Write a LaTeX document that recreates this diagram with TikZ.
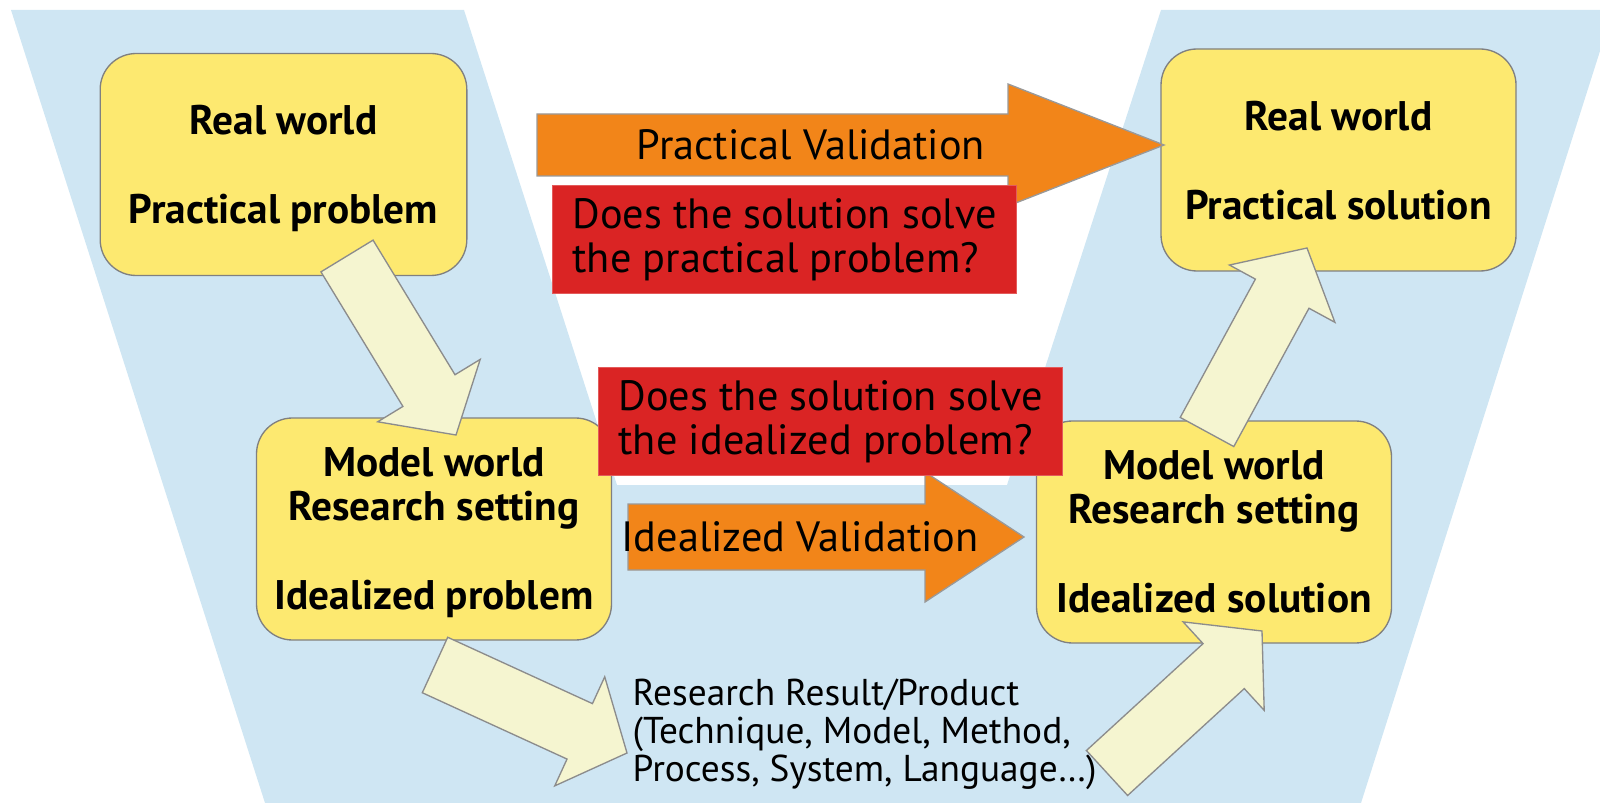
\documentclass[tikz,border=0pt]{standalone}
\usepackage{fontspec}
\setmainfont{PT Sans}
\usepackage{xcolor}
\usetikzlibrary{calc}
\definecolor{vblue}{RGB}{207,230,243}
\definecolor{boxyellow}{RGB}{253,233,112}
\definecolor{paleyellow}{RGB}{245,245,208}
\definecolor{valorange}{RGB}{242,133,25}
\definecolor{askred}{RGB}{218,36,36}
% fat arrow from #1 to #2 (shaft, head)
\newcommand{\fatarrow}[2]{%
  \coordinate (#1h) at ($(#2)!15.6pt!(#1)$);
  \draw[fat] ($(#1)!9.15pt!90:(#2)$) -- ($(#1h)!9.15pt!-90:(#1)$)
    -- ($(#1h)!18pt!-90:(#1)$) -- (#2) -- ($(#1h)!18pt!90:(#1)$)
    -- ($(#1h)!9.15pt!90:(#1)$) -- ($(#1)!9.15pt!-90:(#2)$) -- cycle;
}

\begin{document}
\begin{tikzpicture}[x=0.3pt, y=-0.3pt, line width=0.4pt,
    font=\fontsize{12.7}{13.2}\selectfont,
    world/.style={draw=black!50, fill=boxyellow, rounded corners=10.8pt,
      minimum width=106.5pt, minimum height=66.6pt, align=center,
      text depth=0pt, font=\fontsize{12.4}{13.2}\selectfont\bfseries},
    question/.style={draw=askred!75!white, fill=askred, align=left,
      minimum width=139.2pt, minimum height=32.4pt},
    fat/.style={draw=black!45, fill=paleyellow},
    valid/.style={draw=black!40, fill=valorange}]
  \useasboundingbox (0,0) rectangle (1600,803);
  % background V
  \fill[vblue] (11,10) -- (464,10) -- (617,485) -- (1007,485) -- (1161,10)
    -- (1600,10) -- (1600,51) -- (1361,803) -- (265,803) -- cycle;
  % the four worlds
  \node[world, minimum width=110pt] (realp) at (283.5,164.5)
    {Real world\\[13.5pt]Practical problem};
  \node[world] (reals) at (1338.5,160)
    {Real world\\[13.5pt]Practical solution};
  \node[world] (modelp) at (434,529)
    {Model world\\Research setting\\[13.5pt]Idealized problem};
  \node[world] (models) at (1214,532)
    {Model world\\Research setting\\[13.5pt]Idealized solution};
  % steps
  \coordinate (a1s) at (347,256);  \coordinate (a1e) at (456,435);
  \coordinate (a2s) at (435,665);  \coordinate (a2e) at (627,753);
  \coordinate (a3s) at (1107,773); \coordinate (a3e) at (1262,631);
  \coordinate (a4s) at (1207,432); \coordinate (a4e) at (1307,248);
  \fatarrow{a1s}{a1e}
  \fatarrow{a2s}{a2e}
  \fatarrow{a3s}{a3e}
  \fatarrow{a4s}{a4e}
  % validations
  \draw[valid] (537,114) -- (1008,114) -- (1008,84) -- (1164,145)
    -- (1008,206) -- (1008,176) -- (537,176) -- cycle;
  \node (pval) at (811,145) {Practical Validation};
  \draw[valid] (628,504) -- (925,504) -- (925,472) -- (1024,537)
    -- (925,602) -- (925,570) -- (628,570) -- cycle;
  \node (ival) at (800,537) {Idealized Validation};
  \node[question, anchor=north west] (askp) at (552,185)
    {Does the solution solve\\the practical problem?};
  \node[question, anchor=north west] (aski) at (598,367)
    {Does the solution solve\\the idealized problem?};
  \node[anchor=west, align=left, inner sep=0pt,
    font=\fontsize{11.2}{11.4}\selectfont] (result) at (632,734)
    {Research Result/Product\\(Technique, Model, Method,\\Process, System, Language…)};
\end{tikzpicture}
\end{document}
